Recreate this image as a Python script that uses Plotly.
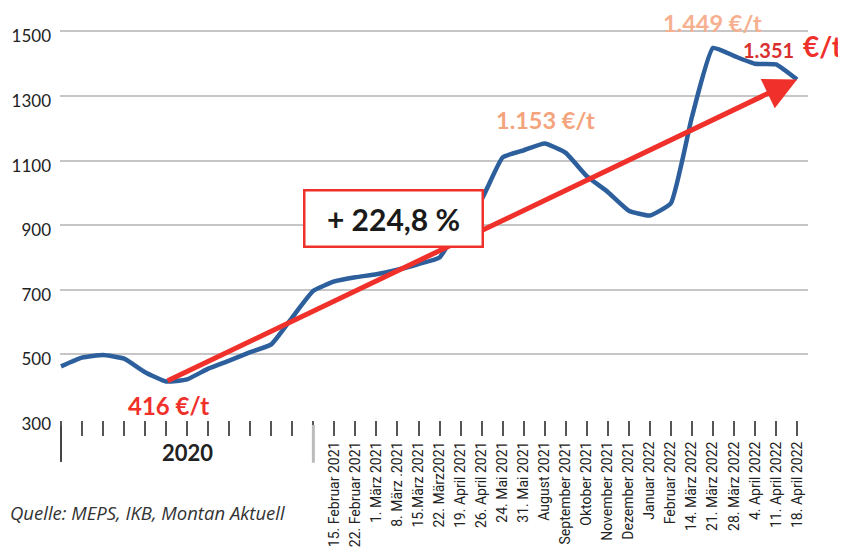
import plotly.graph_objects as go

# ---- data ----
n_2020 = 13  # unlabeled points of 2020 (plus start of 2021)
date_labels = [
    "15. Februar 2021", "22. Februar 2021", "1. März 2021", "8. März .2021",
    "15.März 2021", "22. März2021", "19. April 2021", "26. April 2021",
    "24. Mai 2021", "31. Mai 2021", "August 2021", "September 2021",
    "Oktober 2021", "November 2021", "Dezember 2021", "Januar 2022",
    "Februar 2022", "14. März 2022", "21. März 2022", "28. März 2022",
    "4. April 2022", "11. April 2022", "18. April 2022",
]
prices = [
    463, 490, 498, 487, 445, 416, 423, 456, 481, 507, 531, 615, 697,
    726, 739, 748, 762, 780, 800, 905, 980, 1110, 1132, 1153, 1124,
    1052, 1003, 945, 930, 968, 1235, 1449, 1424, 1400, 1398, 1351,
]
y_ticks = [300, 500, 700, 900, 1100, 1300, 1500]
change_text = "+ 224,8 %"
source_text = "Quelle: MEPS, IKB, Montan Aktuell"

x_idx = list(range(len(prices)))
tick_text = [""] * n_2020 + date_labels
i_min = prices.index(min(prices))
i_last = len(prices) - 1
i_aug = date_labels.index("August 2021") + n_2020
i_peak = prices.index(max(prices))

RED = "#f0302a"
ORANGE = "#f4a47c"

fig = go.Figure()
fig.add_trace(go.Scatter(
    x=x_idx, y=prices, mode="lines",
    line=dict(color="#2c5f9c", width=4.5, shape="spline", smoothing=0.4),
    hoverinfo="skip", showlegend=False,
))

annotations = [
    # red trend arrow from minimum to last value
    dict(x=i_last, y=prices[i_last], ax=i_min, ay=prices[i_min],
         xref="x", yref="y", axref="x", ayref="y", text="",
         showarrow=True, arrowhead=2, arrowsize=1.3, arrowwidth=5,
         arrowcolor=RED, standoff=0, startstandoff=0),
    # percentage box
    dict(x=15.79, y=920, xref="x", yref="y", showarrow=False,
         text="<b>" + change_text + "</b>",
         font=dict(family="Lato", size=30, color="#1a1a1a"),
         bgcolor="white", bordercolor=RED, borderwidth=2.5,
         borderpad=1, width=174, height=52),
    dict(x=i_min, y=prices[i_min], xref="x", yref="y", showarrow=False,
         text="<b>416 €/t</b>", xshift=2, yshift=-24,
         font=dict(family="Lato", size=24, color=RED)),
    dict(x=i_aug, y=prices[i_aug], xref="x", yref="y", showarrow=False,
         text="<b>1.153 €/t</b>", xshift=1, yshift=24,
         font=dict(family="Lato", size=23.5, color=ORANGE)),
    dict(x=i_peak, y=prices[i_peak], xref="x", yref="y", showarrow=False,
         text="<b>1.449 €/t</b>", xshift=0, yshift=25,
         font=dict(family="Lato", size=23.5, color="#f6b08f")),
    dict(x=i_last, y=prices[i_last], xref="x", yref="y", showarrow=False,
         text="<b>1.351</b>", xshift=-29, yshift=30,
         font=dict(family="Lato", size=20, color="#d8302e")),
    dict(x=i_last, y=prices[i_last], xref="x", yref="y", showarrow=False,
         text="<b>€/t</b>", xshift=26, yshift=34,
         font=dict(family="Lato", size=28, color=RED)),
    dict(x=6, y=-0.079, xref="x", yref="paper", showarrow=False,
         text="<b>2020</b>", yanchor="middle",
         font=dict(family="Lato", size=22, color="#222222")),
    dict(x=-0.0695, y=-0.2266, xref="paper", yref="paper", showarrow=False,
         text="<i>" + source_text + "</i>", xanchor="left", yanchor="middle",
         font=dict(family="Open Sans", size=18.5, color="#333333")),
]

shapes = [
    dict(type="line", xref="x", yref="paper", x0=0, x1=0, y0=-0.015, y1=-0.103,
         line=dict(color="#444444", width=2)),
    dict(type="line", xref="x", yref="paper", x0=n_2020 - 1, x1=n_2020 - 1,
         y0=-0.012, y1=-0.105, line=dict(color="#bbbbbb", width=3)),
]

# page body has an 8px margin: figure is shrunk so the plot area sits
# at the same screen pixels as in the reference
fig.update_layout(
    width=838, height=547,
    margin=dict(l=52, r=38, t=5, b=135),
    paper_bgcolor="white", plot_bgcolor="white",
    annotations=annotations, shapes=shapes,
    showlegend=False,
    xaxis=dict(
        range=[-0.048, 35.52], tickmode="array", tickvals=x_idx,
        ticktext=tick_text, tickangle=-90, ticks="outside", ticklen=15,
        tickwidth=1.5, tickcolor="#555555", showgrid=False, zeroline=False,
        showline=False, tickfont=dict(family="Roboto", size=14, color="#222222"),
    ),
    yaxis=dict(
        range=[297, 1557], tickmode="array", tickvals=y_ticks,
        showgrid=True, gridcolor="#c6c6c6", gridwidth=2, zeroline=False,
        showline=False, ticks="", ticklabelstandoff=8, ticklabelshift=5,
        tickfont=dict(family="Lato", size=17, color="#222222"),
    ),
)

fig.write_html("out.html")
